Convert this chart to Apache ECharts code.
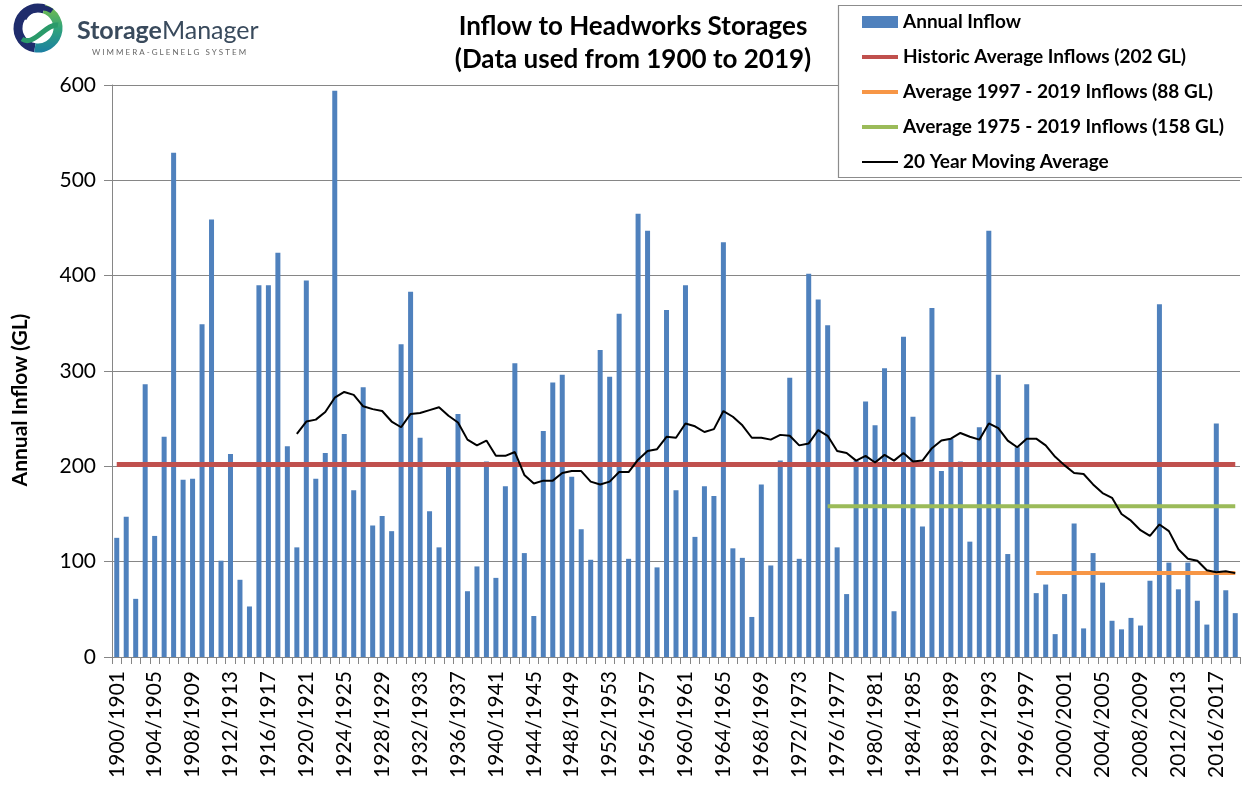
<!DOCTYPE html>
<html>
<head>
<meta charset="utf-8">
<title>Inflow to Headworks Storages</title>
<script src="https://cdn.jsdelivr.net/npm/echarts@6/dist/echarts.min.js"></script>
<style>
  html, body { margin: 0; padding: 0; background: #fff; }
  #chart { width: 1242px; height: 787px; }
</style>
</head>
<body>
<div id="chart"></div>
<script>
// annual inflow (GL), one value per water year, 1900/1901 .. 2018/2019
const inflow = [
  125, 147, 61, 286, 127, 231, 529, 186, 187, 349,
  459, 101, 213, 81, 53, 390, 390, 424, 221, 115,
  395, 187, 214, 594, 234, 175, 283, 138, 148, 132,
  328, 383, 230, 153, 115, 200, 255, 69, 95, 205,
  83, 179, 308, 109, 43, 237, 288, 296, 189, 134,
  102, 322, 294, 360, 103, 465, 447, 94, 364, 175,
  390, 126, 179, 169, 435, 114, 104, 42, 181, 96,
  206, 293, 103, 402, 375, 348, 115, 66, 206, 268,
  243, 303, 48, 336, 252, 137, 366, 195, 229, 205,
  121, 241, 447, 296, 108, 220, 286, 67, 76, 24,
  66, 140, 30, 109, 78, 38, 29, 41, 33, 80,
  370, 99, 71, 99, 59, 34, 245, 70, 46
]

// 20 year moving average, from 1919/1920 on
const movingAvgStart = '1919/1920'
const movingAvg = [
  234, 247, 249, 257, 272, 278, 275, 263, 260, 258,
  247, 241, 255, 256, 259, 262, 253, 246, 228, 222,
  227, 211, 211, 215, 191, 182, 185, 185, 193, 195,
  195, 184, 181, 184, 194, 194, 207, 216, 218, 231,
  230, 245, 242, 236, 239, 258, 252, 243, 230, 230,
  228, 233, 232, 222, 224, 238, 232, 216, 214, 206,
  211, 204, 212, 206, 214, 205, 206, 219, 227, 229,
  235, 231, 228, 245, 240, 227, 220, 229, 229, 222,
  210, 201, 193, 192, 181, 172, 167, 150, 143, 133,
  127, 139, 132, 113, 103, 101, 91, 89, 90, 88
]

// reference averages: value and first water year
const historicAvg = 202
const historicStart = '1900/1901'
const avg1997 = 88
const avg1997Start = '1997/1998'
const avg1975 = 158
const avg1975Start = '1975/1976'

const firstYear = 1900
const years = inflow.map((v, i) => firstYear + i)
const categories = years.map(y => y + '/' + (y + 1))

const yTicks = [0, 100, 200, 300, 400, 500, 600]

const names = {
  bar: 'Annual Inflow',
  hist: 'Historic Average Inflows (202 GL)',
  a97: 'Average 1997 - 2019 Inflows (88 GL)',
  a75: 'Average 1975 - 2019 Inflows (158 GL)',
  ma: '20 Year Moving Average'
}

// level line from a start category to the end
function levelFrom (start, value) {
  const k = categories.indexOf(start)
  return categories.map((c, i) => (i >= k ? value : '-'))
}

function seriesFrom (start, values) {
  const k = categories.indexOf(start)
  return categories.map((c, i) => (i >= k ? values[i - k] : '-'))
}

const FONT = 'Lato, "Open Sans", sans-serif'
const GRID = '#868686'
// plain line icons for the legend (no symbol in the middle)
const THICK_LINE = 'path://M0,0H36V4H0Z'
const THIN_LINE = 'path://M0,0H36V2H0Z'

const chart = echarts.init(document.getElementById('chart'))

const option = {
  animation: false,
  backgroundColor: '#fff',
  textStyle: { fontFamily: FONT },
  title: {
    text: 'Inflow to Headworks Storages\n(Data used from 1900 to 2019)',
    left: 628,
    top: 5,
    textAlign: 'center',
    textStyle: {
      fontFamily: FONT,
      fontSize: 26,
      fontWeight: 'bold',
      color: '#000',
      lineHeight: 33
    }
  },
  legend: {
    orient: 'vertical',
    left: 862,
    top: 12,
    padding: 0,
    itemWidth: 36,
    itemHeight: 12,
    itemGap: 15,
    symbolKeepAspect: true,
    z: 10,
    selectedMode: false,
    textStyle: {
      fontFamily: FONT,
      fontSize: 19,
      fontWeight: 'bold',
      color: '#000',
      lineHeight: 20
    },
    data: [
      { name: names.bar, icon: 'rect' },
      { name: names.hist, icon: THICK_LINE },
      { name: names.a97, icon: THICK_LINE },
      { name: names.a75, icon: THICK_LINE },
      { name: names.ma, icon: THIN_LINE }
    ]
  },
  grid: {
    left: 112,
    right: 2,
    top: 85,
    bottom: 130
  },
  xAxis: {
    type: 'category',
    data: categories,
    boundaryGap: true,
    axisLine: { lineStyle: { color: GRID, width: 1 } },
    axisTick: {
      show: true,
      interval: 0,
      length: 7,
      lineStyle: { color: GRID }
    },
    axisLabel: {
      interval: 3,
      rotate: 90,
      margin: 14,
      fontFamily: FONT,
      fontSize: 21,
      color: '#000'
    },
    splitLine: { show: false }
  },
  yAxis: {
    type: 'value',
    min: yTicks[0],
    max: yTicks[yTicks.length - 1],
    interval: yTicks[1] - yTicks[0],
    axisLine: { show: true, lineStyle: { color: GRID, width: 1 } },
    axisTick: { show: true, length: 8, lineStyle: { color: GRID } },
    axisLabel: {
      margin: 16,
      fontFamily: FONT,
      fontSize: 21,
      color: '#000'
    },
    splitLine: { show: true, lineStyle: { color: GRID, width: 1 } }
  },
  graphic: [
    // legend frame
    {
      type: 'rect',
      z: 5,
      shape: { x: 838.5, y: 5.5, width: 410, height: 172 },
      style: { fill: '#fff', stroke: '#8c8c8c', lineWidth: 1.2 }
    },
    // y axis title
    {
      type: 'text',
      x: 20,
      y: 400,
      rotation: Math.PI / 2,
      style: {
        text: 'Annual Inflow (GL)',
        font: 'bold 21px ' + FONT,
        fill: '#000',
        align: 'center',
        verticalAlign: 'middle'
      }
    },
    // StorageManager logo
    {
      type: 'group',
      x: 0,
      y: 0,
      children: [
        {
          type: 'arc',
          shape: { cx: 38, cy: 28, r: 20, startAngle: Math.PI * 0.55, endAngle: Math.PI * 1.6 },
          style: { stroke: '#1f2c6c', lineWidth: 9, fill: null }
        },
        {
          type: 'arc',
          shape: { cx: 38, cy: 28, r: 20, startAngle: -Math.PI * 0.4, endAngle: Math.PI * 0.55 },
          style: {
            stroke: new echarts.graphic.LinearGradient(0, 0, 0, 1, [
              { offset: 0, color: '#7dbf4a' },
              { offset: 0.5, color: '#2fa37a' },
              { offset: 1, color: '#1c7fa3' }
            ]),
            lineWidth: 9,
            fill: null
          }
        },
        {
          type: 'bezierCurve',
          shape: { x1: 22, y1: 39, x2: 58, y2: 25, cpx1: 34, cpy1: 47, cpx2: 46, cpy2: 23 },
          style: { stroke: '#2a9a6a', lineWidth: 5, fill: null }
        },
        {
          type: 'bezierCurve',
          shape: { x1: 24, y1: 19, x2: 52, y2: 11, cpx1: 30, cpy1: 7, cpx2: 44, cpy2: 5 },
          style: { stroke: '#1f2c6c', lineWidth: 5, fill: null }
        },
        {
          type: 'text',
          x: 77,
          y: 31,
          style: {
            text: '{b|Storage}{r|Manager}',
            verticalAlign: 'middle',
            rich: {
              b: { font: 'bold 25px ' + FONT, fill: '#394a5c' },
              r: { font: '25px ' + FONT, fill: '#394a5c' }
            }
          }
        },
        {
          type: 'text',
          x: 169,
          y: 52,
          style: {
            text: 'W I M M E R A - G L E N E L G   S Y S T E M',
            font: '8px ' + FONT,
            fill: '#666',
            align: 'center',
            verticalAlign: 'middle'
          }
        }
      ]
    }
  ],
  series: [
    {
      name: names.bar,
      type: 'bar',
      data: inflow,
      barWidth: 5,
      itemStyle: { color: '#4f81bd' },
      z: 2
    },
    {
      name: names.hist,
      type: 'line',
      data: levelFrom(historicStart, historicAvg),
      symbol: 'none',
      lineStyle: { color: '#c0504d', width: 5 },
      itemStyle: { color: '#c0504d' },
      z: 3
    },
    {
      name: names.a97,
      type: 'line',
      data: levelFrom(avg1997Start, avg1997),
      symbol: 'none',
      lineStyle: { color: '#f79646', width: 4 },
      itemStyle: { color: '#f79646' },
      z: 3
    },
    {
      name: names.a75,
      type: 'line',
      data: levelFrom(avg1975Start, avg1975),
      symbol: 'none',
      lineStyle: { color: '#9bbb59', width: 4 },
      itemStyle: { color: '#9bbb59' },
      z: 3
    },
    {
      name: names.ma,
      type: 'line',
      data: seriesFrom(movingAvgStart, movingAvg),
      symbol: 'none',
      lineStyle: { color: '#000', width: 2 },
      itemStyle: { color: '#000' },
      z: 4
    }
  ]
}

chart.setOption(option)
</script>
</body>
</html>
